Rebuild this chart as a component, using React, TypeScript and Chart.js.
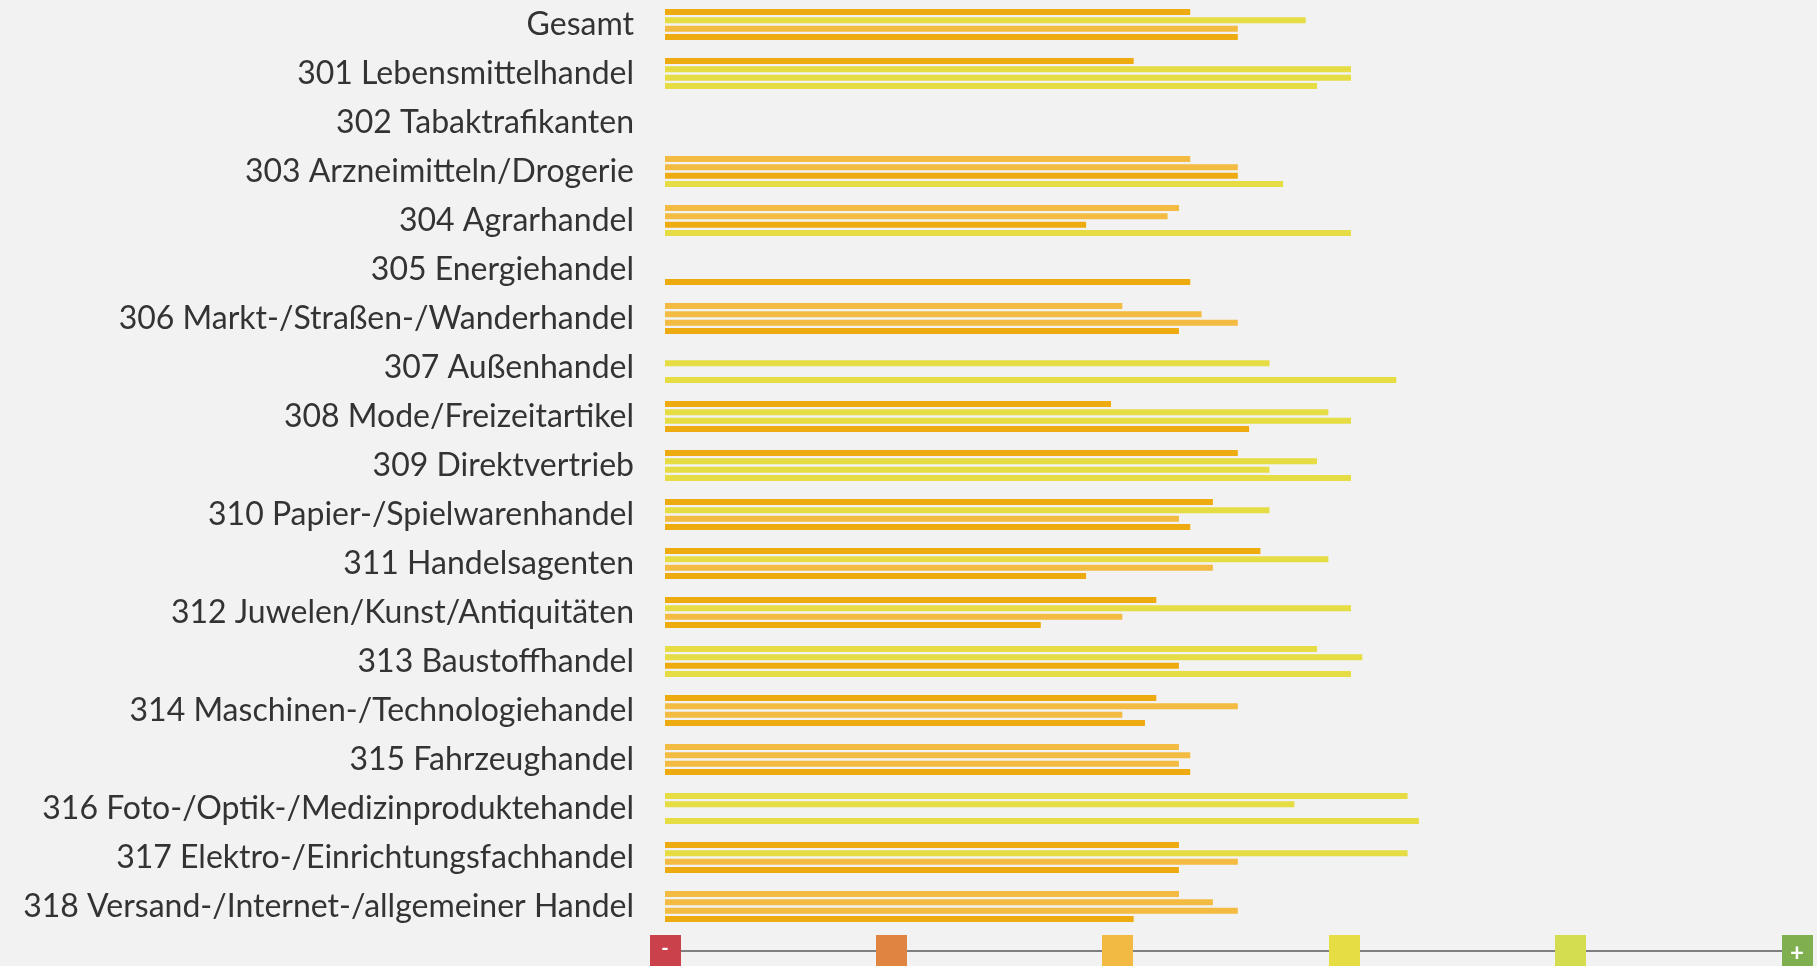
import React, { useEffect, useRef } from "react";
import { Chart, registerables } from "chart.js";

Chart.register(...registerables);

const categories = [
  "Gesamt",
  "301 Lebensmittelhandel",
  "302 Tabaktrafikanten",
  "303 Arzneimitteln/Drogerie",
  "304 Agrarhandel",
  "305 Energiehandel",
  "306 Markt-/Straßen-/Wanderhandel",
  "307 Außenhandel",
  "308 Mode/Freizeitartikel",
  "309 Direktvertrieb",
  "310 Papier-/Spielwarenhandel",
  "311 Handelsagenten",
  "312 Juwelen/Kunst/Antiquitäten",
  "313 Baustoffhandel",
  "314 Maschinen-/Technologiehandel",
  "315 Fahrzeughandel",
  "316 Foto-/Optik-/Medizinproduktehandel",
  "317 Elektro-/Einrichtungsfachhandel",
  "318 Versand-/Internet-/allgemeiner Handel",
];

const series1 = [2.32, 2.07, null, 2.32, 2.27, null, 2.02, null, 1.97, 2.53, 2.42, 2.63, 2.17, 2.88, 2.17, 2.27, 3.28, 2.27, 2.27];
const series2 = [2.83, 3.03, null, 2.53, 2.22, null, 2.37, 2.67, 2.93, 2.88, 2.67, 2.93, 3.03, 3.08, 2.53, 2.32, 2.78, 3.28, 2.42];
const series3 = [2.53, 3.03, null, 2.53, 1.86, null, 2.53, null, 3.03, 2.67, 2.27, 2.42, 2.02, 2.27, 2.02, 2.27, null, 2.53, 2.53];
const series4 = [2.53, 2.88, null, 2.73, 3.03, 2.32, 2.27, 3.23, 2.58, 3.03, 2.32, 1.86, 1.66, 3.03, 2.12, 2.32, 3.33, 2.27, 2.07];

// rating class of each bar: 0 = dark orange, 1 = light orange, 2 = yellow
const level1 = [0, 0, 0, 1, 1, 0, 1, 0, 0, 0, 0, 0, 0, 2, 0, 1, 2, 0, 1];
const level2 = [2, 2, 0, 1, 1, 0, 1, 2, 2, 2, 2, 2, 2, 2, 1, 1, 2, 2, 1];
const level3 = [1, 2, 0, 0, 0, 0, 1, 0, 2, 2, 1, 1, 1, 0, 1, 1, 0, 1, 1];
const level4 = [0, 2, 0, 2, 2, 0, 0, 2, 0, 2, 0, 0, 0, 2, 0, 0, 2, 0, 0];

const scaleTicks = [0, 1, 2, 3, 4, 5];
const scaleTickLabels = ["-", "", "", "", "", "+"];

const barPalette = ["#EEAB10", "#F3BB41", "#E6DD45"];
const scalePalette = ["#CA404B", "#E08442", "#F2BA42", "#E6DC43", "#D4DC50", "#80AF50"];

const bgPlugin = {
  id: "bg",
  beforeDraw(chart: any) {
    const { ctx, width, height } = chart;
    ctx.save();
    ctx.fillStyle = "#F2F2F2";
    ctx.fillRect(0, 0, width, height);
    ctx.restore();
  },
};

const scaleLegendPlugin = {
  id: "scaleLegend",
  afterDraw(chart: any) {
    const { ctx } = chart;
    const x = chart.scales.x;
    const lineY = 951;
    const size = 31;
    ctx.save();
    ctx.strokeStyle = "#808080";
    ctx.lineWidth = 2;
    ctx.beginPath();
    ctx.moveTo(x.getPixelForValue(scaleTicks[0]), lineY);
    ctx.lineTo(x.getPixelForValue(scaleTicks[scaleTicks.length - 1]), lineY);
    ctx.stroke();
    scaleTicks.forEach((t, i) => {
      const px = x.getPixelForValue(t);
      ctx.fillStyle = scalePalette[i];
      ctx.fillRect(Math.round(px - size / 2), 935, size, size);
      const label = scaleTickLabels[i];
      if (label) {
        ctx.fillStyle = "#FFFFFF";
        ctx.textAlign = "center";
        ctx.textBaseline = "middle";
        ctx.font = label === "+" ? "bold 24px Lato" : "bold 20px Lato";
        ctx.fillText(label, px, label === "+" ? 953 : 949);
      }
    });
    ctx.restore();
  },
};

export default function App() {
  const ref = useRef<HTMLCanvasElement | null>(null);
  useEffect(() => {
    document.body.style.margin = "0";
    document.body.style.background = "#F2F2F2";
    document.body.style.overflow = "hidden";
    const mk = (data: (number | null)[], lv: number[]) => ({
      data,
      backgroundColor: lv.map((l) => barPalette[l]),
      borderWidth: 0,
      categoryPercentage: 0.686,
      barPercentage: 0.71,
    });
    const chart = new Chart(ref.current as HTMLCanvasElement, {
      type: "bar",
      data: {
        labels: categories,
        datasets: [mk(series1, level1), mk(series2, level2), mk(series3, level3), mk(series4, level4)],
      },
      options: {
        indexAxis: "y",
        animation: false,
        responsive: false,
        layout: { padding: { top: 0, bottom: 35, left: 0, right: 20 } },
        plugins: { legend: { display: false }, tooltip: { enabled: false } },
        scales: {
          x: { display: false, min: 0, max: 5 },
          y: {
            grid: { display: false, drawTicks: false },
            border: { display: false },
            ticks: {
              autoSkip: false,
              padding: 31,
              color: "#333333",
              font: { family: "Lato", size: 32 },
            },
            afterFit(scale: any) {
              scale.width = 665;
              scale.paddingTop = 0;
              scale.paddingBottom = 0;
            },
          },
        },
      },
      plugins: [bgPlugin, scaleLegendPlugin],
    });
    return () => chart.destroy();
  }, []);
  return (
    <div style={{ width: 1817, height: 966 }}>
      <canvas ref={ref} width={1817} height={966} style={{ display: "block" }} />
    </div>
  );
}
